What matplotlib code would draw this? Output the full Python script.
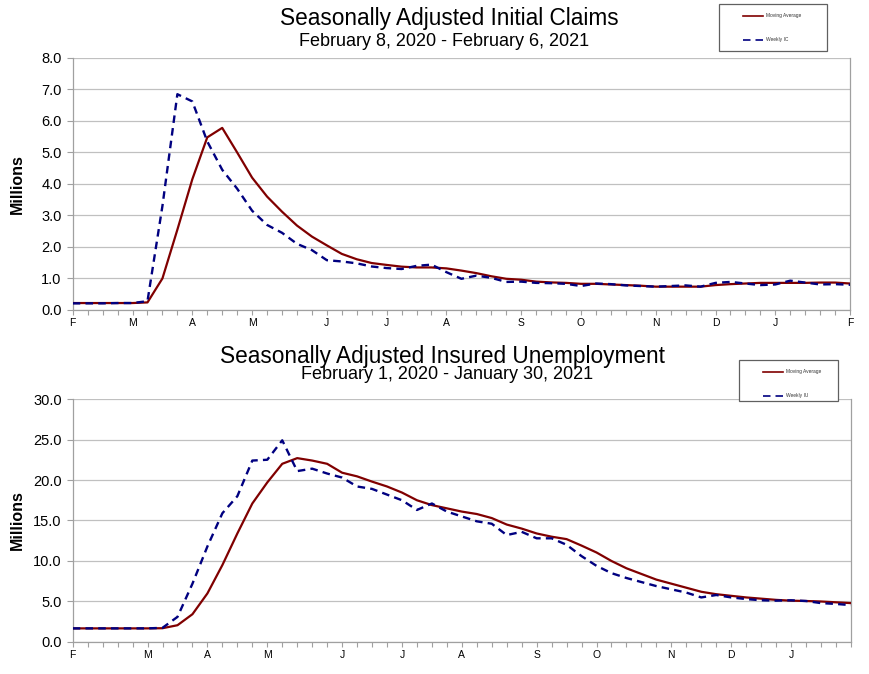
import numpy as np
import pandas as pd
import matplotlib
matplotlib.use('Agg')
import matplotlib.pyplot as plt
from matplotlib.lines import Line2D
from matplotlib.patches import Rectangle
from matplotlib.ticker import FormatStrFormatter


plt.rcParams['font.family'] = ['Liberation Sans', 'DejaVu Sans']

# weekly initial claims, millions (Feb 8, 2020 - Feb 6, 2021)
ic_start = '2020-02-08'
ic_weekly = [0.21, 0.21, 0.21, 0.22, 0.22, 0.28, 3.3, 6.85, 6.62, 5.35,
             4.45, 3.85, 3.15, 2.7, 2.45, 2.1, 1.9, 1.58, 1.54, 1.48,
             1.38, 1.33, 1.30, 1.40, 1.44, 1.2, 0.99, 1.09, 1.02, 0.89,
             0.9, 0.86, 0.85, 0.83, 0.76, 0.84, 0.82, 0.78, 0.76, 0.74,
             0.76, 0.78, 0.74, 0.86, 0.89, 0.84, 0.79, 0.81, 0.93, 0.87,
             0.81, 0.82, 0.80]
ic_avg = [0.22, 0.22, 0.22, 0.22, 0.22, 0.24, 1.0, 2.55, 4.15, 5.48,
          5.78, 5.0, 4.2, 3.6, 3.12, 2.68, 2.33, 2.05, 1.78, 1.61,
          1.49, 1.43, 1.375, 1.35, 1.35, 1.32, 1.25, 1.17, 1.07, 0.99,
          0.96, 0.9, 0.875, 0.86, 0.83, 0.83, 0.81, 0.79, 0.77, 0.74,
          0.74, 0.74, 0.74, 0.79, 0.82, 0.84, 0.86, 0.86, 0.86, 0.86,
          0.87, 0.87, 0.84]

# weekly insured unemployment, millions (Feb 1, 2020 - Jan 30, 2021)
iu_start = '2020-02-01'
iu_weekly = [1.68, 1.68, 1.68, 1.68, 1.68, 1.68, 1.75, 3.1, 7.2, 11.8,
             15.9, 18.0, 22.4, 22.5, 24.9, 21.1, 21.4, 20.8, 20.3, 19.2,
             18.9, 18.2, 17.5, 16.3, 17.1, 16.1, 15.5, 14.9, 14.6, 13.2,
             13.6, 12.8, 12.8, 12.0, 10.6, 9.4, 8.5, 7.9, 7.4, 6.9,
             6.5, 6.1, 5.5, 5.8, 5.5, 5.3, 5.15, 5.1, 5.15, 5.06,
             4.8, 4.7, 4.55]
iu_avg = [1.68, 1.68, 1.68, 1.68, 1.68, 1.68, 1.7, 2.07, 3.43, 6.0,
          9.5, 13.4, 17.1, 19.7, 22.0, 22.7, 22.4, 22.0, 20.9, 20.45,
          19.8, 19.2, 18.45, 17.5, 16.9, 16.5, 16.1, 15.8, 15.3, 14.5,
          14.0, 13.4, 13.0, 12.7, 11.9, 11.05, 10.0, 9.1, 8.4, 7.7,
          7.2, 6.7, 6.2, 5.9, 5.7, 5.5, 5.35, 5.2, 5.1, 5.06,
          5.0, 4.9, 4.8]

GRID = '#c0c0c0'
AXIS = '#a0a0a0'
AVG_COLOR = '#800000'
WEEKLY_COLOR = '#000080'

W, H = 869, 674


def fx(px):
    return px / W


def fy(py):
    return 1 - py / H


def draw_key(fig, box, weekly_label):
    x0, y0, x1, y1 = box
    fig.add_artist(Rectangle((fx(x0), fy(y1)), fx(x1 - x0), (y1 - y0) / H,
                             transform=fig.transFigure, facecolor='white',
                             edgecolor='#606060', lw=0.9, zorder=5))
    rows = [(y0 + 11.5, AVG_COLOR, '-', 'Moving Average'),
            (y0 + 35.5, WEEKLY_COLOR, (0, (4.5, 3.0)), weekly_label)]
    for yy, color, ls, text in rows:
        fig.add_artist(Line2D([fx(x0 + 24), fx(x0 + 44)], [fy(yy), fy(yy)],
                              transform=fig.transFigure, color=color,
                              lw=1.2, ls=ls, zorder=6))
        fig.text(fx(x0 + 47), fy(yy), text, fontsize=3.5, va='center',
                 ha='left', color='#333333', zorder=6)


def style_axes(ax, dates, ymax, ystep):
    ax.set_xlim(dates[0], dates[-1])
    ax.set_ylim(0, ymax)
    ax.set_yticks(np.arange(0, ymax + 0.001, ystep))
    ax.yaxis.set_major_formatter(FormatStrFormatter('%.1f'))
    ax.grid(axis='y', color=GRID, lw=0.9, zorder=0)
    ax.set_axisbelow(True)

    # month letters at the first week of each month, small ticks every week
    firsts = [0] + [i for i in range(1, len(dates))
                    if dates[i].month != dates[i - 1].month]
    ax.set_xticks([dates[i] for i in firsts])
    ax.set_xticklabels([dates[i].strftime('%b')[0] for i in firsts])
    ax.set_xticks(list(dates), minor=True)

    ax.tick_params(axis='x', which='both', length=3.5, width=0.8,
                   color=AXIS, labelsize=7.5, pad=2)
    ax.tick_params(axis='y', length=4.5, width=0.8, color=AXIS,
                   labelsize=10.5, pad=3.5)
    for side in ['left', 'bottom', 'right']:
        ax.spines[side].set_color(AXIS)
        ax.spines[side].set_linewidth(0.9)
    ax.spines['top'].set_visible(False)
    ax.set_ylabel('Millions', fontsize=11.5, fontweight='bold')
    ax.yaxis.set_label_coords(-0.062, 0.5)


def plot_panel(ax, start, weekly, avg, ymax, ystep):
    dates = pd.date_range(start, periods=len(weekly), freq='7D')
    ax.plot(dates, avg, color=AVG_COLOR, lw=1.6, zorder=3)
    ax.plot(dates, weekly, color=WEEKLY_COLOR, lw=1.7,
            dashes=(3.2, 2.2), zorder=4)
    style_axes(ax, dates, ymax, ystep)


def main():
    fig = plt.figure(figsize=(8.69, 6.74), dpi=100)

    ax1 = fig.add_axes([0.0837, 0.5401, 0.8945, 0.3739])
    plot_panel(ax1, ic_start, ic_weekly, ic_avg, 8.0, 1.0)

    ax2 = fig.add_axes([0.0837, 0.0475, 0.8955, 0.3605])
    plot_panel(ax2, iu_start, iu_weekly, iu_avg, 30.0, 5.0)

    fig.text(fx(449), fy(18), 'Seasonally Adjusted Initial Claims',
             fontsize=16.3, ha='center', va='center')
    fig.text(fx(444), fy(42), 'February 8, 2020 - February 6, 2021',
             fontsize=13, ha='center', va='center')
    fig.text(fx(442), fy(356), 'Seasonally Adjusted Insured Unemployment',
             fontsize=16.3, ha='center', va='center')
    fig.text(fx(447), fy(375), 'February 1, 2020 - January 30, 2021',
             fontsize=13, ha='center', va='center')

    draw_key(fig, (719, 4, 827, 51), 'Weekly IC')
    draw_key(fig, (739, 360, 838, 401), 'Weekly IU')

    plt.savefig('out.png', dpi=100)
    plt.close()


if __name__ == '__main__':
    main()
